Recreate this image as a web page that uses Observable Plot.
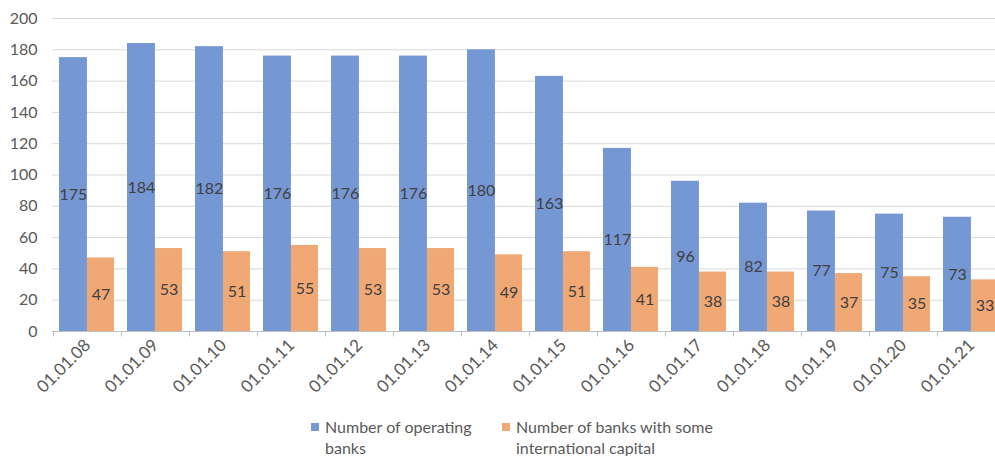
<!DOCTYPE html>
<html>
<head>
<meta charset="utf-8">
<script src="https://cdn.jsdelivr.net/npm/d3@7"></script>
<script src="https://cdn.jsdelivr.net/npm/@observablehq/plot@0.6"></script>
<style>
  html, body { margin: 0; padding: 0; background: #fff; overflow: hidden; }
  #wrap { position: relative; width: 995px; height: 456px; overflow: hidden; font-family: Lato, "Open Sans", sans-serif; }
  #chart svg { display: block; overflow: hidden; }
  .legend { position: absolute; top: 416px; left: 0; width: 995px; height: 40px; color: #595959; font-size: 16px; line-height: 21px; }
  .item { position: absolute; top: 0; display: flex; align-items: flex-start; }
  .sw { width: 8px; height: 8px; margin-top: 7px; margin-right: 6px; flex: none; }
</style>
</head>
<body>
<div id="wrap">
  <div id="chart"></div>
  <div class="legend" id="legend"></div>
</div>
<script>
const dates = ["01.01.08","01.01.09","01.01.10","01.01.11","01.01.12","01.01.13","01.01.14","01.01.15","01.01.16","01.01.17","01.01.18","01.01.19","01.01.20","01.01.21"];
const operatingBanks = [175,184,182,176,176,176,180,163,117,96,82,77,75,73];
const internationalBanks = [47,53,51,55,53,53,49,51,41,38,38,37,35,33];
const seriesNames = ["Number of operating banks", "Number of banks with some international capital"];
const legendLines = [["Number of operating", "banks"], ["Number of banks with some", "international capital"]];
const yTicks = [0,20,40,60,80,100,120,140,160,180,200];
const colors = ["#7597d3", "#f0a874"];

const opRows = dates.map((d, i) => ({date: d, series: seriesNames[0], value: operatingBanks[i]}));
const intRows = dates.map((d, i) => ({date: d, series: seriesNames[1], value: internationalBanks[i]}));

const W = 995, H = 412, ML = 52, MR = -10;
const bw = (W - MR - ML) / dates.length;

const chart = Plot.plot({
  width: W,
  height: H,
  marginLeft: ML,
  marginRight: MR,
  marginTop: 18,
  marginBottom: H - 331,
  style: {fontFamily: "Lato, 'Open Sans', sans-serif", fontSize: "16px", color: "#595959", background: "#fff"},
  x: {domain: dates, padding: 0, label: null},
  y: {domain: [0, 200], label: null},
  marks: [
    Plot.gridY({ticks: yTicks, stroke: "#d9d9d9", strokeOpacity: 1}),
    Plot.barY(opRows, {x: "date", y: "value", fill: colors[0], insetLeft: 6, insetRight: bw - 34}),
    Plot.barY(intRows, {x: "date", y: "value", fill: colors[1], insetLeft: 34, insetRight: 7}),
    Plot.text(opRows, {x: "date", y: d => d.value / 2, text: d => String(d.value), dx: -bw / 2 + 20, fill: "#404040", fontSize: 16}),
    Plot.text(intRows, {x: "date", y: d => d.value / 2, text: d => String(d.value), dx: 13.5, fill: "#404040", fontSize: 16}),
    Plot.ruleY([0], {stroke: "#bfbfbf"}),
    Plot.ruleX(dates, {x: d => d, dx: -bw / 2, y1: 0, y2: -3.5, stroke: "#bfbfbf"}),
    Plot.axisY({ticks: yTicks, tickSize: 0, tickPadding: 15, fontSize: 16, fill: "#595959"}),
    Plot.axisX({tickRotate: -45, tickSize: 0, tickPadding: 11, fontSize: 17, fill: "#595959"})
  ]
});
document.getElementById("chart").appendChild(chart);

const legend = document.getElementById("legend");
const lefts = [311, 502];
seriesNames.forEach((name, i) => {
  const item = document.createElement("div");
  item.className = "item";
  item.style.left = lefts[i] + "px";
  item.innerHTML = `<div class="sw" style="background:${colors[i]}"></div><div>${legendLines[i].join("<br>")}</div>`;
  item.title = name;
  legend.appendChild(item);
});
</script>
</body>
</html>
